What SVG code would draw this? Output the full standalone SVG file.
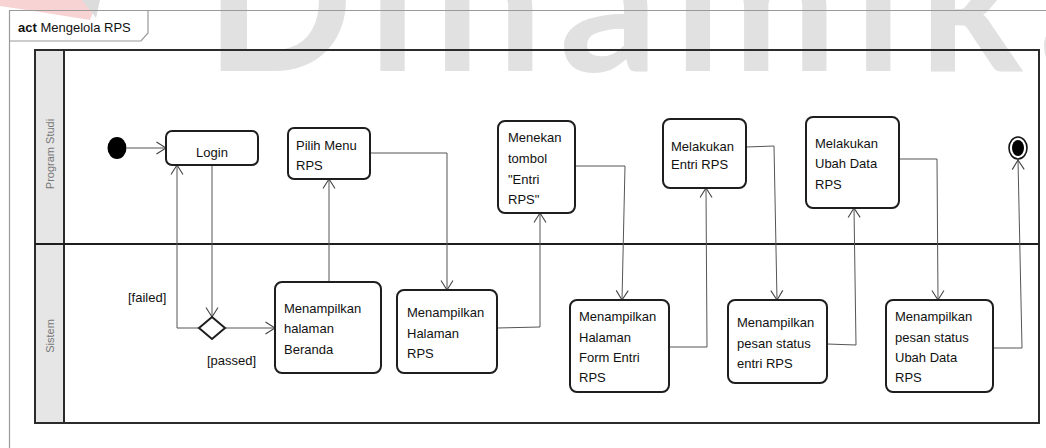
<svg xmlns="http://www.w3.org/2000/svg" width="1046" height="448" viewBox="0 0 1046 448">
  <defs>
    <marker id="open" markerUnits="userSpaceOnUse" markerWidth="14" markerHeight="14" viewBox="0 0 14 14" refX="11" refY="7" orient="auto">
      <path d="M1.5,1 L11,7 L1.5,13" fill="none" stroke="#444" stroke-width="1.1"/>
    </marker>
  </defs>
  <style>
    .wm { font-family: Lato, "Liberation Sans", sans-serif; font-weight: 700; font-size: 195px; letter-spacing: 16px; fill: #e1e1e1; }
    .frame { fill: none; stroke: #9a9a9a; stroke-width: 1.2; }
    .pool { fill: none; stroke: #2b2b2b; stroke-width: 2; }
    .lanehead { fill: #e6e6e6; stroke: #2b2b2b; stroke-width: 2; }
    .lanelabel { font-family: "Liberation Sans", Arial, sans-serif; font-size: 11px; fill: #777; text-anchor: middle; }
    .title { font-family: "Liberation Sans", Arial, sans-serif; font-size: 13px; fill: #111; }
    .act { fill: #fff; stroke: #1e1e1e; stroke-width: 2; }
    .lbl { font-family: "Liberation Sans", Arial, sans-serif; font-size: 13px; fill: #111; }
    .guard { font-family: "Liberation Sans", Arial, sans-serif; font-size: 13px; fill: #111; }
    .edge { fill: none; stroke: #555; stroke-width: 1; marker-end: url(#open); }
  </style>

  <rect width="1046" height="448" fill="#fff"/>

  <!-- background logo mark -->
  <g id="watermark">
    <polygon points="0,0 98,0 90,20 40,12 0,6" fill="#f8d3d3"/>
    <polygon points="82,0 100,0 96,18" fill="#dcdcdc"/>
    <text class="wm" x="205" y="71">Dinamika</text>
  </g>

  <!-- diagram frame -->
  <g id="frame">
    <path class="frame" d="M9.5,460 V10.5 H1060"/>
    <path class="frame" d="M9.5,41 H141 L148,33 V10.5"/>
    <text class="title" x="18" y="32"><tspan font-weight="bold">act</tspan> Mengelola RPS</text>
  </g>

  <!-- swimlanes -->
  <g id="lanes">
    <rect class="lanehead" x="35" y="50" width="29" height="373"/>
    <rect class="pool" x="35" y="50" width="1004" height="373"/>
    <line x1="35" y1="244" x2="1039" y2="244" stroke="#1e1e1e" stroke-width="2"/>
    <text class="lanelabel" transform="translate(54,154) rotate(-90)">Program Studi</text>
    <text class="lanelabel" transform="translate(54,336) rotate(-90)">Sistem</text>
  </g>

  <!-- connectors -->
  <g id="connectors">
    <path class="edge" d="M127,148 H166"/>
    <path class="edge" d="M212,165 V317"/>
    <path class="edge" d="M199,328 H177 V165"/>
    <path class="edge" d="M225,328 H275"/>
    <path class="edge" d="M329,282 V179"/>
    <path class="edge" d="M370,153 H447 V290"/>
    <path class="edge" d="M497,328 L540,327 V213"/>
    <path class="edge" d="M575,166 H625 L622,300"/>
    <path class="edge" d="M669,347 H707 L706,188"/>
    <path class="edge" d="M746,147 L774,146 L777,300"/>
    <path class="edge" d="M827,344 L856,345 L854,208"/>
    <path class="edge" d="M899,159 H937 L938,300"/>
    <path class="edge" d="M993,348 H1022 L1018,160"/>
    <text class="guard" x="128" y="302">[failed]</text>
    <text class="guard" x="207" y="365">[passed]</text>
  </g>

  <!-- nodes -->
  <g id="start">
    <ellipse cx="117" cy="148" rx="9.5" ry="11" fill="#000"/>
  </g>
  <g id="login">
    <rect class="act" x="166" y="131" width="92" height="34" rx="6"/>
    <text class="lbl" x="212" y="157" text-anchor="middle">Login</text>
  </g>
  <g id="pilih-menu">
    <rect class="act" x="288" y="128" width="82" height="51" rx="6"/>
    <text class="lbl" x="296" y="150">Pilih Menu</text>
    <text class="lbl" x="296" y="170">RPS</text>
  </g>
  <g id="decision">
    <polygon points="212,317 225,328 212,339 199,328" fill="#fff" stroke="#1e1e1e" stroke-width="2"/>
  </g>
  <g id="beranda">
    <rect class="act" x="275" y="282" width="106" height="91" rx="7"/>
    <text class="lbl" x="284" y="313">Menampilkan</text>
    <text class="lbl" x="284" y="333">halaman</text>
    <text class="lbl" x="284" y="354">Beranda</text>
  </g>
  <g id="halaman-rps">
    <rect class="act" x="397" y="290" width="100" height="83" rx="7"/>
    <text class="lbl" x="407" y="317">Menampilkan</text>
    <text class="lbl" x="407" y="338">Halaman</text>
    <text class="lbl" x="407" y="358">RPS</text>
  </g>
  <g id="menekan-tombol">
    <rect class="act" x="498" y="121" width="77" height="92" rx="7"/>
    <text class="lbl" x="508" y="142">Menekan</text>
    <text class="lbl" x="508" y="163">tombol</text>
    <text class="lbl" x="508" y="184">"Entri</text>
    <text class="lbl" x="508" y="204">RPS"</text>
  </g>
  <g id="form-entri">
    <rect class="act" x="570" y="300" width="99" height="92" rx="7"/>
    <text class="lbl" x="579" y="321">Menampilkan</text>
    <text class="lbl" x="579" y="342">Halaman</text>
    <text class="lbl" x="579" y="362">Form Entri</text>
    <text class="lbl" x="579" y="382">RPS</text>
  </g>
  <g id="melakukan-entri">
    <rect class="act" x="663" y="119" width="83" height="69" rx="7"/>
    <text class="lbl" x="671" y="151">Melakukan</text>
    <text class="lbl" x="671" y="169">Entri RPS</text>
  </g>
  <g id="status-entri">
    <rect class="act" x="728" y="300" width="99" height="83" rx="7"/>
    <text class="lbl" x="737" y="327">Menampilkan</text>
    <text class="lbl" x="737" y="348">pesan status</text>
    <text class="lbl" x="737" y="368">entri RPS</text>
  </g>
  <g id="melakukan-ubah">
    <rect class="act" x="806" y="117" width="93" height="91" rx="7"/>
    <text class="lbl" x="815" y="148">Melakukan</text>
    <text class="lbl" x="815" y="168">Ubah Data</text>
    <text class="lbl" x="815" y="189">RPS</text>
  </g>
  <g id="status-ubah">
    <rect class="act" x="886" y="300" width="107" height="92" rx="7"/>
    <text class="lbl" x="895" y="321">Menampilkan</text>
    <text class="lbl" x="895" y="342">pesan status</text>
    <text class="lbl" x="895" y="362">Ubah Data</text>
    <text class="lbl" x="895" y="382">RPS</text>
  </g>
  <g id="end">
    <ellipse cx="1018" cy="148" rx="9" ry="11" fill="#fff" stroke="#111" stroke-width="1.6"/>
    <ellipse cx="1018" cy="148" rx="6" ry="8" fill="#000"/>
  </g>
</svg>
